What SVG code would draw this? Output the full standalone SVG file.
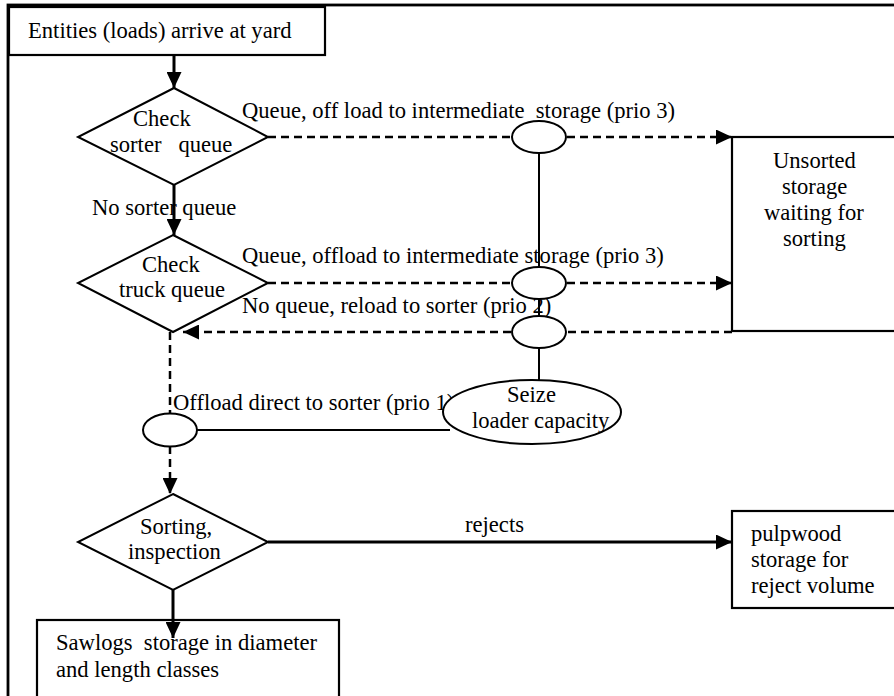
<svg xmlns="http://www.w3.org/2000/svg" width="894" height="696" viewBox="0 0 894 696" xml:space="preserve">
<style>
text{font-family:"Liberation Serif","Times New Roman",serif;font-size:22.6px;fill:#000;white-space:pre}
.box{fill:#fff;stroke:#000;stroke-width:2.2}
.dia{fill:#fff;stroke:#000;stroke-width:2}
.el{fill:#fff;stroke:#000;stroke-width:2}
.solid{stroke:#000;stroke-width:3;fill:none}
.thin{stroke:#000;stroke-width:2;fill:none}
.dash{stroke:#000;stroke-width:2.5;fill:none;stroke-dasharray:8 5}
</style>
<defs>
<marker id="ah" markerWidth="16" markerHeight="15" refX="16" refY="7.5" orient="auto" markerUnits="userSpaceOnUse">
<path d="M0,0 L16,7.5 L0,15 Z" fill="#000"/>
</marker>
</defs>
<rect x="8" y="5" width="900" height="700" fill="none" stroke="#000" stroke-width="2.8"/>
<g id="n-entities"><rect class="box" x="9" y="7" width="316" height="48"/><text x="28" y="38">Entities (loads) arrive at yard</text></g>
<g id="n-unsorted"><rect class="box" x="732" y="137" width="200" height="194"/><text x="773" y="168">Unsorted</text><text x="782" y="194">storage</text><text x="764" y="220">waiting for</text><text x="783" y="246">sorting</text></g>
<g id="n-pulpwood"><rect class="box" x="732" y="511" width="200" height="97"/><text x="751" y="541">pulpwood</text><text x="751" y="567">storage for</text><text x="751" y="593">reject volume</text></g>
<g id="n-sawlogs"><rect class="box" x="37" y="620" width="302" height="100"/><text x="56" y="650">Sawlogs  storage in diameter</text><text x="56" y="677">and length classes</text></g>
<g id="connectors">
<line class="solid" x1="174" y1="55" x2="174" y2="88" marker-end="url(#ah)"/>
<line class="solid" x1="174" y1="185" x2="174" y2="235" marker-end="url(#ah)"/>
<line class="dash" x1="268" y1="137" x2="732" y2="137" marker-end="url(#ah)"/>
<line class="dash" x1="268" y1="283" x2="732" y2="283" marker-end="url(#ah)"/>
<line class="dash" x1="732" y1="332" x2="183" y2="332" marker-end="url(#ah)"/>
<line class="dash" x1="170" y1="332" x2="170" y2="413"/>
<line class="dash" x1="170" y1="446" x2="170" y2="494" marker-end="url(#ah)"/>
<line class="solid" x1="173" y1="590" x2="173" y2="638" marker-end="url(#ah)"/>
<line class="solid" x1="268" y1="542" x2="732" y2="542" marker-end="url(#ah)"/>
<line class="thin" x1="197" y1="430" x2="450" y2="430"/>
</g>
<g id="labels">
<text x="242" y="118">Queue, off load to intermediate  storage (prio 3)</text>
<text x="92" y="215">No sorter queue</text>
<text x="242" y="263">Queue, offload to intermediate storage (prio 3)</text>
<text x="242" y="313">No queue, reload to sorter (prio 2)</text>
<text x="173" y="410">Offload direct to sorter (prio 1)</text>
<text x="465" y="532">rejects</text>
</g>
<g id="n-check-sorter"><polygon class="dia" points="174,88 268,137 174,185 78,137"/><text x="133" y="126">Check</text><text x="110" y="152">sorter   queue</text></g>
<g id="n-check-truck"><polygon class="dia" points="173,235 268,283 173,332 78,283"/><text x="142" y="272">Check</text><text x="119" y="297">truck queue</text></g>
<g id="n-sorting"><polygon class="dia" points="173,494 268,542 173,590 78,542"/><text x="140" y="534">Sorting,</text><text x="128" y="559">inspection</text></g>
<g id="connectors-loader"><line class="thin" x1="539" y1="153" x2="539" y2="381"/></g>
<g id="n-ell1"><ellipse class="el" cx="539" cy="137" rx="27" ry="16"/></g>
<g id="n-ell2"><ellipse class="el" cx="539" cy="283" rx="27" ry="16"/></g>
<g id="n-ell3"><ellipse class="el" cx="539" cy="332" rx="27" ry="16"/></g>
<g id="n-ell4"><ellipse class="el" cx="170" cy="430" rx="27" ry="16.5"/></g>
<g id="n-seize"><ellipse class="el" cx="532" cy="412" rx="89" ry="32"/><text x="507" y="402">Seize</text><text x="472" y="428">loader capacity</text></g>
</svg>
